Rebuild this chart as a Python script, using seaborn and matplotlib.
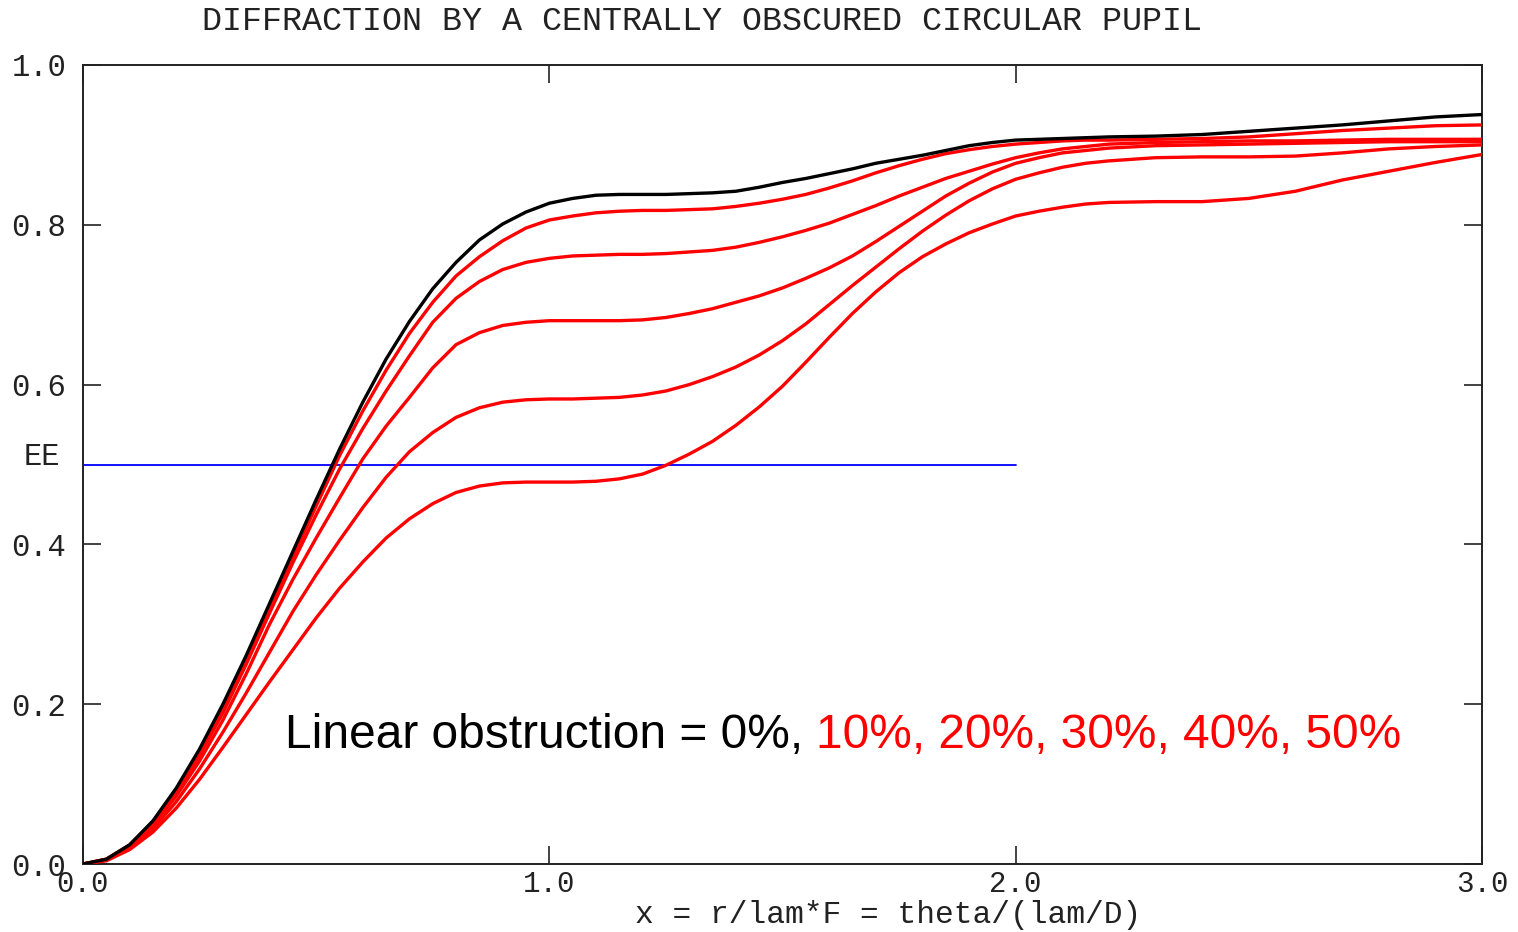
import numpy as np
import pandas as pd
import seaborn as sns
import matplotlib.pyplot as plt

# Radius in units of lambda*F (= theta / (lambda/D))
x_vals = [0.00, 0.05, 0.10, 0.15, 0.20, 0.25, 0.30, 0.35, 0.40, 0.45,
          0.50, 0.55, 0.60, 0.65, 0.70, 0.75, 0.80, 0.85, 0.90, 0.95,
          1.00, 1.05, 1.10, 1.15, 1.20, 1.25, 1.30, 1.35, 1.40, 1.45,
          1.50, 1.55, 1.60, 1.65, 1.70, 1.75, 1.80, 1.85, 1.90, 1.95,
          2.00, 2.05, 2.10, 2.15, 2.20, 2.30, 2.40, 2.50, 2.60, 2.70,
          2.80, 2.90, 3.00]

# Encircled energy for each linear obstruction ratio
ee_00 = [0.000, 0.006, 0.024, 0.054, 0.095, 0.144, 0.200, 0.261, 0.326, 0.391,
         0.456, 0.519, 0.578, 0.632, 0.679, 0.720, 0.753, 0.781, 0.801, 0.816,
         0.827, 0.833, 0.837, 0.838, 0.838, 0.838, 0.839, 0.840, 0.842, 0.847,
         0.853, 0.858, 0.864, 0.870, 0.877, 0.882, 0.887, 0.893, 0.899, 0.903,
         0.906, 0.907, 0.908, 0.909, 0.910, 0.911, 0.913, 0.917, 0.921, 0.925,
         0.930, 0.935, 0.938]
ee_10 = [0.000, 0.006, 0.024, 0.053, 0.093, 0.141, 0.195, 0.254, 0.317, 0.384,
         0.448, 0.511, 0.567, 0.618, 0.664, 0.703, 0.736, 0.760, 0.780, 0.796,
         0.806, 0.811, 0.815, 0.817, 0.818, 0.818, 0.819, 0.820, 0.823, 0.827,
         0.832, 0.838, 0.846, 0.855, 0.865, 0.874, 0.882, 0.889, 0.894, 0.898,
         0.901, 0.903, 0.905, 0.906, 0.906, 0.907, 0.908, 0.910, 0.914, 0.918,
         0.921, 0.924, 0.925]
ee_20 = [0.000, 0.006, 0.023, 0.051, 0.090, 0.136, 0.189, 0.250, 0.314, 0.377,
         0.437, 0.494, 0.545, 0.592, 0.636, 0.678, 0.708, 0.729, 0.744, 0.753,
         0.758, 0.761, 0.762, 0.763, 0.763, 0.764, 0.766, 0.768, 0.772, 0.778,
         0.785, 0.793, 0.802, 0.813, 0.824, 0.836, 0.847, 0.858, 0.867, 0.876,
         0.884, 0.890, 0.895, 0.898, 0.901, 0.903, 0.904, 0.905, 0.905, 0.906,
         0.907, 0.907, 0.907]
ee_30 = [0.000, 0.005, 0.022, 0.048, 0.085, 0.129, 0.180, 0.238, 0.300, 0.356,
         0.408, 0.458, 0.507, 0.548, 0.584, 0.621, 0.650, 0.665, 0.674, 0.678,
         0.680, 0.680, 0.680, 0.680, 0.681, 0.684, 0.689, 0.695, 0.703, 0.711,
         0.721, 0.733, 0.746, 0.761, 0.779, 0.798, 0.817, 0.836, 0.852, 0.866,
         0.877, 0.884, 0.890, 0.893, 0.896, 0.899, 0.900, 0.901, 0.902, 0.903,
         0.904, 0.904, 0.904]
ee_40 = [0.000, 0.005, 0.020, 0.044, 0.078, 0.119, 0.165, 0.214, 0.265, 0.316,
         0.362, 0.405, 0.446, 0.484, 0.516, 0.540, 0.559, 0.571, 0.578, 0.581,
         0.582, 0.582, 0.583, 0.584, 0.587, 0.592, 0.600, 0.610, 0.622, 0.637,
         0.655, 0.676, 0.700, 0.724, 0.747, 0.770, 0.792, 0.812, 0.830, 0.845,
         0.857, 0.865, 0.872, 0.877, 0.880, 0.884, 0.885, 0.885, 0.886, 0.890,
         0.895, 0.898, 0.900]
ee_50 = [0.000, 0.004, 0.018, 0.040, 0.070, 0.106, 0.146, 0.187, 0.228, 0.268,
         0.308, 0.345, 0.378, 0.408, 0.432, 0.451, 0.465, 0.473, 0.477, 0.478,
         0.478, 0.478, 0.479, 0.482, 0.488, 0.499, 0.513, 0.529, 0.549, 0.572,
         0.598, 0.628, 0.659, 0.689, 0.716, 0.740, 0.760, 0.776, 0.790, 0.801,
         0.811, 0.817, 0.822, 0.826, 0.828, 0.829, 0.829, 0.833, 0.842, 0.856,
         0.867, 0.878, 0.888]

obstructions = ["10%", "20%", "30%", "40%", "50%", "0%"]
curves = {"0%": ee_00, "10%": ee_10, "20%": ee_20,
          "30%": ee_30, "40%": ee_40, "50%": ee_50}

# Half-energy reference line
half_x = [0.0, 2.0]
half_y = [0.5, 0.5]

x_ticks = [0.0, 1.0, 2.0, 3.0]
y_ticks = [0.0, 0.2, 0.4, 0.6, 0.8, 1.0]

df = pd.concat(
    [pd.DataFrame({"x": x_vals, "ee": curves[k], "obstruction": k}) for k in obstructions],
    ignore_index=True,
)

sns.set_style("white")
plt.rcParams["font.family"] = ["Liberation Mono", "DejaVu Sans Mono"]

W, H = 1518, 932
fig = plt.figure(figsize=(W / 100, H / 100), dpi=100)
ax = fig.add_axes([83 / W, (H - 864) / H, (1482 - 83) / W, (864 - 65) / H])

ax.plot(half_x, half_y, color="#0000ff", lw=1.3, zorder=1)

palette = {k: ("black" if k == "0%" else "#ff0000") for k in obstructions}
sns.lineplot(data=df, x="x", y="ee", hue="obstruction", hue_order=obstructions,
             palette=palette, linewidth=2.4, estimator=None, sort=False,
             legend=False, ax=ax, zorder=3)

ax.set_xlim(0, 3)
ax.set_ylim(0, 1)
ax.set_xticks(x_ticks)
ax.set_yticks(y_ticks)
ax.set_xticklabels([f"{v:.1f}" for v in x_ticks])
ax.set_yticklabels([f"{v:.1f}" for v in y_ticks])
ax.tick_params(direction="in", length=13, width=1.2, bottom=True, left=True,
               top=True, right=True, labelsize=22, colors="#222222")
ax.tick_params(axis="x", labelsize=21, pad=4)
ax.tick_params(axis="y", pad=12)
for s in ax.spines.values():
    s.set_visible(True)
    s.set_color("#222222")
    s.set_linewidth(1.4)
ax.set_xlabel("")
ax.set_ylabel("")

fig.text(702 / W, 1 - 22 / H, "DIFFRACTION BY A CENTRALLY OBSCURED CIRCULAR PUPIL",
         ha="center", va="center", fontsize=24, color="#222222")
fig.text(888 / W, 1 - 923 / H, "x = r/lam*F = theta/(lam/D)",
         ha="center", va="baseline", fontsize=22.5, color="#222222")
fig.text(42 / W, 1 - 457 / H, "EE", ha="center", va="center", fontsize=22,
         color="#222222")

label_black = fig.text(285 / W, 1 - 748 / H, "Linear obstruction = 0%, ",
                       ha="left", va="baseline", fontsize=34.5,
                       family="Liberation Sans", color="black")
ax.annotate("10%, 20%, 30%, 40%, 50%", xy=(1, 0), xycoords=label_black,
            ha="left", va="bottom", fontsize=34.5, family="Liberation Sans",
            color="#ff0000")

fig.savefig("out.png", dpi=100)
